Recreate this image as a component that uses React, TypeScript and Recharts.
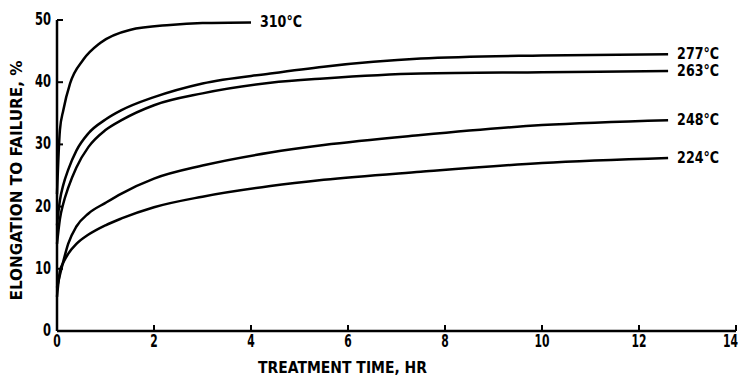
import React from "react";
import { LineChart, Line, XAxis, YAxis } from "recharts";

// treatment time (hr) and elongation to failure (%)
const time310 = [0, 0.06, 0.13, 0.27, 0.54, 0.89, 1.5, 2.33, 3, 4];
const elong310 = [22, 32.3, 35.5, 39.8, 43.6, 46.3, 48.4, 49.2, 49.5, 49.6];

const timeLong = [0, 0.06, 0.13, 0.23, 0.4, 0.65, 1, 1.33, 2, 3, 4.4, 5.5, 7.5, 10, 12.6];
const elong277 = [17, 21, 23.5, 25.9, 29, 31.8, 34, 35.5, 37.6, 39.8, 41.4, 42.5, 43.8, 44.3, 44.5];
const elong263 = [14, 18, 20.5, 23, 26.3, 29.6, 32.3, 33.9, 36.3, 38.2, 39.9, 40.6, 41.4, 41.6, 41.8];
const elong248 = [7, 9, 11.2, 14, 16.8, 18.9, 20.6, 22.1, 24.5, 26.6, 28.7, 29.9, 31.5, 33.1, 33.9];
const elong224 = [5.5, 9.6, 11, 12.4, 14, 15.5, 17, 18.1, 19.9, 21.6, 23.3, 24.3, 25.6, 27, 27.8];

const xTicks = [0, 2, 4, 6, 8, 10, 12, 14];
const yTicks = [0, 10, 20, 30, 40, 50];

const font = "'DejaVu Sans', sans-serif";

const toRows = (t: number[], v: number[]) => t.map((x, i) => ({ t: x, e: v[i] }));

const series = [
  { name: "310°C", data: toRows(time310, elong310) },
  { name: "277°C", data: toRows(timeLong, elong277) },
  { name: "263°C", data: toRows(timeLong, elong263) },
  { name: "248°C", data: toRows(timeLong, elong248) },
  { name: "224°C", data: toRows(timeLong, elong224) },
];

const endLabel = (name: string, last: number) => (p: any) =>
  p.index === last ? (
    <text
      key={name}
      x={p.x + 9}
      y={p.y}
      dy={5}
      fontFamily={font}
      fontWeight="bold"
      fontSize={15}
      textLength={42}
      lengthAdjust="spacingAndGlyphs"
      fill="#000"
    >
      {name}
    </text>
  ) : null;

const XTick = (p: any) => {
  const s = String(p.payload.value);
  const last = p.index === xTicks.length - 1;
  return (
    <text
      x={last ? p.x + 2 : p.x}
      y={p.y}
      dy={14}
      textAnchor={last ? "end" : "middle"}
      fontFamily={font}
      fontWeight="bold"
      fontSize={17}
      textLength={s.length * 7.5}
      lengthAdjust="spacingAndGlyphs"
      fill="#000"
    >
      {s}
    </text>
  );
};

const YTick = (p: any) => {
  const s = String(p.payload.value);
  return (
    <text
      x={p.x}
      y={p.y}
      dy={5}
      textAnchor="end"
      fontFamily={font}
      fontWeight="bold"
      fontSize={18}
      textLength={s.length * 8}
      lengthAdjust="spacingAndGlyphs"
      fill="#000"
    >
      {s}
    </text>
  );
};

const XTitle = (p: any) => {
  const vb = p.viewBox;
  return (
    <text
      x={vb.x + vb.width / 2 - 54}
      y={vb.y + vb.height + 12}
      textAnchor="middle"
      fontFamily={font}
      fontWeight="bold"
      fontSize={16}
      textLength={169}
      lengthAdjust="spacingAndGlyphs"
      fill="#000"
    >
      TREATMENT TIME, HR
    </text>
  );
};

const YTitle = (p: any) => {
  const vb = p.viewBox;
  const cx = 22;
  const cy = vb.y + vb.height / 2 + 5;
  return (
    <text
      x={cx}
      y={cy}
      transform={`rotate(-90, ${cx}, ${cy})`}
      textAnchor="middle"
      fontFamily={font}
      fontWeight="bold"
      fontSize={16}
      textLength={240}
      lengthAdjust="spacingAndGlyphs"
      fill="#000"
    >
      ELONGATION TO FAILURE, %
    </text>
  );
};

export default function App() {
  return (
    <div style={{ position: "absolute", left: 0, top: 0, background: "#fff" }}>
      <LineChart width={744} height={377} margin={{ top: 20, right: 8, bottom: 16, left: 0 }}>
        <XAxis
          dataKey="t"
          type="number"
          domain={[0, 14]}
          ticks={xTicks}
          allowDuplicatedCategory={false}
          height={30}
          tickSize={-6}
          tickMargin={8}
          tick={<XTick />}
          axisLine={{ stroke: "#000", strokeWidth: 2.5 }}
          tickLine={{ stroke: "#000", strokeWidth: 2 }}
          label={<XTitle />}
        />
        <YAxis
          type="number"
          domain={[0, 50]}
          ticks={yTicks}
          width={57}
          tickSize={-6}
          tickMargin={12}
          tick={<YTick />}
          axisLine={{ stroke: "#000", strokeWidth: 2.5 }}
          tickLine={{ stroke: "#000", strokeWidth: 2 }}
          label={<YTitle />}
        />
        {series.map((s) => (
          <Line
            key={s.name}
            data={s.data}
            dataKey="e"
            name={s.name}
            type="monotone"
            stroke="#000"
            strokeWidth={2.5}
            dot={false}
            isAnimationActive={false}
            label={endLabel(s.name, s.data.length - 1)}
          />
        ))}
      </LineChart>
    </div>
  );
}
